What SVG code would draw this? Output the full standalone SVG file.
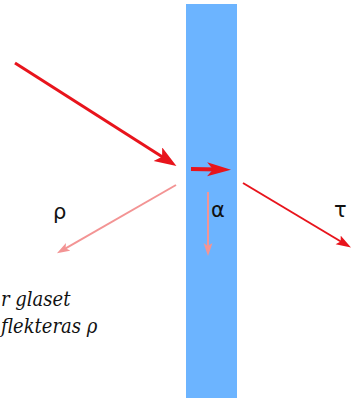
<svg xmlns="http://www.w3.org/2000/svg" width="352" height="400" viewBox="0 0 352 400">
  <style>
    .red { stroke: #E8141C; fill: none; }
    .pale { stroke: #F39494; fill: none; }
    .lbl { font-family: "DejaVu Sans", "Liberation Sans", sans-serif; font-size: 21px; fill: #111; }
    .note { font-family: "DejaVu Serif Condensed", "DejaVu Serif", serif; font-stretch: condensed; font-style: italic; font-size: 20px; fill: #111; }
  </style>
  <defs>
    <marker id="headBig" markerUnits="userSpaceOnUse" markerWidth="24" markerHeight="18" refX="12" refY="8" orient="auto">
      <path d="M0,0 L22,8 L0,16 L5,8 z" fill="#E8141C"/>
    </marker>
    <marker id="headIn" markerUnits="userSpaceOnUse" markerWidth="26" markerHeight="18" refX="12" refY="7" orient="auto">
      <path d="M0,0 L24,7 L0,14 L6,7 z" fill="#E8141C"/>
    </marker>
    <marker id="headSmall" markerUnits="userSpaceOnUse" markerWidth="18" markerHeight="12" refX="8" refY="5" orient="auto">
      <path d="M0,0 L15,5 L0,10 L3,5 z" fill="#E8141C"/>
    </marker>
    <marker id="headPale" markerUnits="userSpaceOnUse" markerWidth="16" markerHeight="12" refX="6" refY="4.5" orient="auto">
      <path d="M0,0 L13,4.5 L0,9 L3,4.5 z" fill="#F39494"/>
    </marker>
  </defs>

  <g id="glass">
    <rect x="186" y="4" width="51" height="394" fill="#6CB4FF"/>
  </g>

  <g id="connectors">
    <line class="red" x1="15" y1="63" x2="168" y2="160.6" stroke-width="3" marker-end="url(#headBig)"/>
    <line class="red" x1="191" y1="169" x2="219" y2="169.5" stroke-width="4" marker-end="url(#headIn)"/>
    <line class="pale" x1="176" y1="185" x2="63" y2="249.8" stroke-width="2" marker-end="url(#headPale)"/>
    <line class="pale" x1="208" y1="192" x2="208" y2="249" stroke-width="2" marker-end="url(#headPale)"/>
    <line class="red" x1="243" y1="183" x2="345" y2="244" stroke-width="2" marker-end="url(#headSmall)"/>
  </g>

  <g id="labels">
    <text class="lbl" x="53" y="219">ρ</text>
    <text class="lbl" x="211" y="217">α</text>
    <text class="lbl" x="334" y="217">τ</text>
  </g>

  <g id="note">
    <text class="note" x="1" y="306">r glaset</text>
    <text class="note" x="1" y="333">flekteras ρ</text>
  </g>
</svg>
